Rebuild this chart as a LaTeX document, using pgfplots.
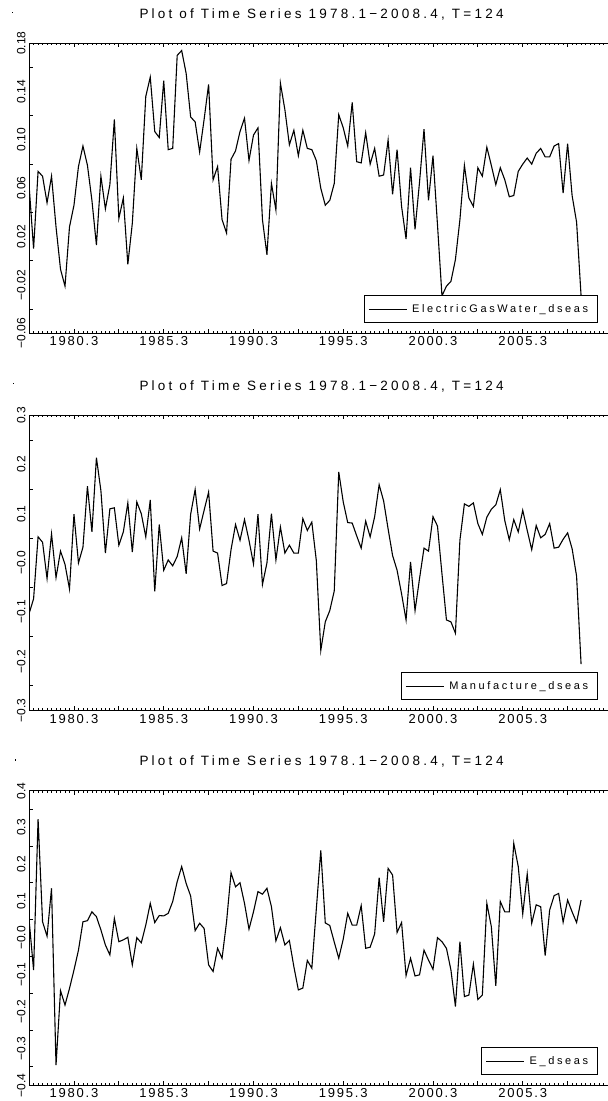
\documentclass[border=0pt]{standalone}
\usepackage{fontspec}
\setmainfont{Liberation Sans}
\newfontfamily\ttlfont[LetterSpace=24]{Liberation Sans}
\newfontfamily\tckfont[LetterSpace=14]{Liberation Sans}
\newfontfamily\lgdfont[LetterSpace=24]{Liberation Sans}
\usepackage{pgfplots}
\usepackage{pgfplotstable}
\pgfplotsset{compat=1.18}

% quarterly series, t=1 is 1978.1, t=124 is 2008.4
\pgfplotstableread{
t egw man e
1 0.062 -0.103 0.049
2 0.010 -0.073 -0.087
3 0.074 0.053 0.323
4 0.070 0.042 0.044
5 0.048 -0.032 0.005
6 0.070 0.059 0.135
7 0.028 -0.030 -0.345
8 -0.007 0.024 -0.143
9 -0.021 -0.003 -0.182
10 0.028 -0.053 -0.137
11 0.046 0.099 -0.087
12 0.078 0.000 -0.033
13 0.095 0.032 0.044
14 0.079 0.156 0.047
15 0.050 0.063 0.071
16 0.013 0.214 0.058
17 0.070 0.147 0.022
18 0.043 0.020 -0.019
19 0.063 0.110 -0.046
20 0.117 0.112 0.053
21 0.035 0.036 -0.010
22 0.052 0.063 -0.005
23 -0.003 0.122 0.002
24 0.031 0.022 -0.073
25 0.093 0.124 0.001
26 0.067 0.100 -0.013
27 0.136 0.053 0.035
28 0.152 0.128 0.094
29 0.107 -0.058 0.042
30 0.102 0.078 0.061
31 0.149 -0.015 0.060
32 0.092 0.006 0.067
33 0.093 -0.006 0.099
34 0.170 0.013 0.153
35 0.174 0.051 0.194
36 0.155 -0.022 0.148
37 0.119 0.099 0.114
38 0.115 0.149 0.020
39 0.090 0.069 0.040
40 0.117 0.107 0.026
41 0.146 0.144 -0.073
42 0.067 0.024 -0.091
43 0.078 0.020 -0.028
44 0.034 -0.046 -0.055
45 0.023 -0.042 0.044
46 0.084 0.027 0.177
47 0.091 0.078 0.139
48 0.107 0.046 0.150
49 0.118 0.088 0.094
50 0.083 0.046 0.024
51 0.104 -0.002 0.071
52 0.110 0.099 0.126
53 0.034 -0.044 0.119
54 0.005 0.000 0.135
55 0.064 0.100 0.085
56 0.042 0.006 -0.008
57 0.147 0.073 0.028
58 0.125 0.020 -0.019
59 0.096 0.036 -0.007
60 0.108 0.020 -0.078
61 0.087 0.020 -0.141
62 0.108 0.090 -0.136
63 0.093 0.066 -0.061
64 0.092 0.083 -0.082
65 0.083 0.005 0.078
66 0.060 -0.178 0.238
67 0.046 -0.120 0.041
68 0.050 -0.097 0.034
69 0.064 -0.057 -0.011
70 0.121 0.185 -0.055
71 0.110 0.124 -0.003
72 0.095 0.082 0.067
73 0.131 0.081 0.035
74 0.082 0.055 0.035
75 0.081 0.030 0.088
76 0.106 0.085 -0.028
77 0.080 0.053 -0.025
78 0.093 0.094 0.011
79 0.070 0.159 0.164
80 0.071 0.126 0.044
81 0.100 0.069 0.189
82 0.055 0.015 0.171
83 0.092 -0.015 0.015
84 0.045 -0.063 0.042
85 0.018 -0.116 -0.102
86 0.077 0.002 -0.055
87 0.026 -0.097 -0.103
88 0.065 -0.032 -0.100
89 0.109 0.030 -0.033
90 0.050 0.024 -0.060
91 0.087 0.094 -0.085
92 0.030 0.075 0.001
93 -0.029 -0.022 -0.010
94 -0.021 -0.116 -0.028
95 -0.017 -0.120 -0.087
96 0.001 -0.143 -0.186
97 0.034 0.046 -0.010
98 0.079 0.120 -0.159
99 0.052 0.115 -0.155
100 0.045 0.122 -0.071
101 0.077 0.080 -0.167
102 0.070 0.058 -0.155
103 0.094 0.093 0.094
104 0.079 0.109 0.031
105 0.063 0.118 -0.130
106 0.077 0.149 0.099
107 0.067 0.086 0.071
108 0.053 0.047 0.071
109 0.054 0.088 0.257
110 0.074 0.063 0.194
111 0.080 0.107 0.065
112 0.085 0.066 0.174
113 0.080 0.027 0.040
114 0.089 0.076 0.090
115 0.093 0.051 0.085
116 0.086 0.058 -0.048
117 0.086 0.080 0.076
118 0.095 0.030 0.115
119 0.097 0.032 0.121
120 0.056 0.048 0.043
121 0.097 0.061 0.103
122 0.054 0.029 0.071
123 0.032 -0.027 0.042
124 -0.029 -0.206 0.103
}\series

\pgfplotsset{
  tsaxis/.style={
    scale only axis, width=578.9pt,
    xmin=1, xmax=130,
    axis y line*=left,
    axis line style={line width=1.2pt},
    xtick={11,21,...,121},
    xticklabels={1980.3,,1985.3,,1990.3,,1995.3,,2000.3,,2005.3,},
    minor xtick={1,...,130},
    major tick length=4pt, minor tick length=2pt,
    tick style={line width=0.8pt, black},
    xticklabel style={font=\tckfont\fontsize{13}{15}\selectfont},
    yticklabels={},
    extra y tick style={major tick length=0pt},
    yticklabel style={font=\fontsize{12}{14}\selectfont, rotate=90, anchor=south},
    title={Plot of Time Series 1978.1−2008.4, T=124},
    title style={font=\ttlfont\fontsize{13.5}{16}\selectfont, at={(0.5,1)}, anchor=base, yshift=19pt, xshift=3pt},
    legend style={at={(1,0)}, anchor=south east, xshift=-10.3pt, yshift=10pt,
      draw=black, line width=0.9pt, fill=white,
      font=\lgdfont\fontsize{11}{13}\selectfont,
      inner xsep=4pt, inner ysep=5pt,
      nodes={inner xsep=5pt, inner ysep=4pt}},
    legend cell align=left,
    legend image code/.code={\draw[##1] (0pt,0pt) -- (38pt,0pt);},
  },
  tsline/.style={black, line width=1.1pt},
}

\begin{document}
\begin{tikzpicture}
\useasboundingbox (0pt,0pt) rectangle (608pt,1101pt);

% panel 1
\begin{axis}[tsaxis, at={(29.1pt,767.7pt)}, anchor=south west, height=290pt,
  ymin=-0.06, ymax=0.18,
  ytick={-0.04,0,0.04,0.08,0.12,0.16},
  extra y ticks={-0.06,-0.02,0.02,0.06,0.10,0.14,0.18},
  extra y tick labels={−0.06,−0.02,0.02,0.06,0.10,0.14,0.18}]
  \addplot[tsline] table[x=t, y=egw] {\series};
  \addlegendentry{ElectricGasWater\_dseas}
\end{axis}

% panel 2
\begin{axis}[tsaxis, at={(29.1pt,390.6pt)}, anchor=south west, height=295pt,
  ymin=-0.3, ymax=0.3,
  ytick={-0.25,-0.15,-0.05,0.05,0.15,0.25},
  extra y ticks={-0.3,-0.2,-0.1,0,0.1,0.2,0.3},
  extra y tick labels={−0.3,−0.2,−0.1,−0.0,0.1,0.2,0.3}]
  \addplot[tsline] table[x=t, y=man] {\series};
  \addlegendentry{Manufacture\_dseas}
\end{axis}

% panel 3
\begin{axis}[tsaxis, at={(29.1pt,15.7pt)}, anchor=south west, height=294.6pt,
  ymin=-0.4, ymax=0.4,
  ytick={-0.35,-0.25,-0.15,-0.05,0.05,0.15,0.25,0.35},
  extra y ticks={-0.4,-0.3,-0.2,-0.1,0,0.1,0.2,0.3,0.4},
  extra y tick labels={−0.4,−0.3,−0.2,−0.1,−0.0,0.1,0.2,0.3,0.4}]
  \addplot[tsline] table[x=t, y=e] {\series};
  \addlegendentry{E\_dseas}
\end{axis}

% small stray dots in the top left corners
\fill (11.7pt,1087.7pt) rectangle ++(1.2pt,1.2pt);
\fill (12.7pt,717pt) rectangle ++(1.2pt,1.2pt);
\fill (15pt,340.3pt) rectangle ++(1.2pt,1.2pt);
\end{tikzpicture}
\end{document}
